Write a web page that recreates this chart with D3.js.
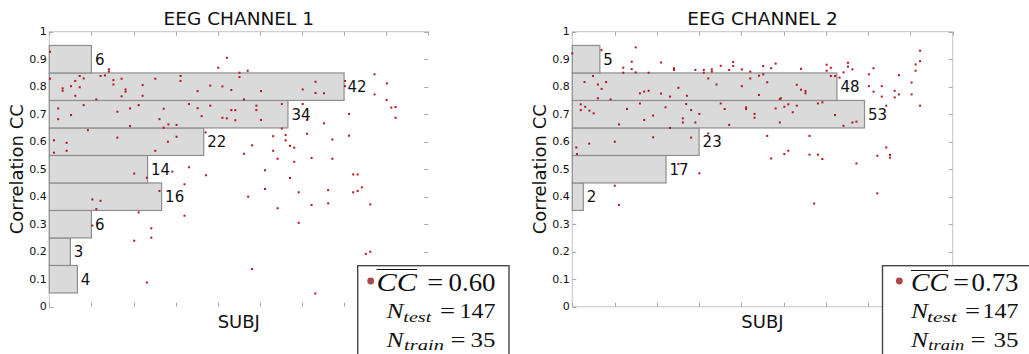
<!DOCTYPE html>
<html><head><meta charset="utf-8">
<script src="https://cdn.jsdelivr.net/npm/d3@7"></script>
<style>body{margin:0;background:#fff}svg{display:block}</style>
</head><body>
<svg id="chart" width="1029" height="354"></svg>
<script>
// ---------------- DATA ----------------
const binCenters = [0.1, 0.2, 0.3, 0.4, 0.5, 0.6, 0.7, 0.8, 0.9];
const counts1 = [4, 3, 6, 16, 14, 22, 34, 42, 6];
const counts2 = [0, 0, 0, 2, 17, 23, 53, 48, 5];
const yTickValues = [0, 0.1, 0.2, 0.3, 0.4, 0.5, 0.6, 0.7, 0.8, 0.9, 1];
const yTickLabels = ["0", "0.1", "0.2", "0.3", "0.4", "0.5", "0.6", "0.7", "0.8", "0.9", "1"];
const titles = ["EEG CHANNEL 1", "EEG CHANNEL 2"];
const xLabel = "SUBJ";
const yLabel = "Correlation CC";
const meanCC = ["0.60", "0.73"];
const nTest = ["147", "147"];
const nTrain = ["35", "35"];
const countMax = [54, 69];
const subjMax = 162;

// channel 1 scatter: subject index, correlation
const subj1 = [0.3,72.2,75.9,25.5,25.4,81.3,81.3,84.8,139,144.3,139,144.2,146.2,148,148,
 0.3,5.7,5.7,9.3,11.1,13,13,14.7,11.1,21.9,23.8,27.4,27.4,30.9,30.9,32.6,32.6,39.9,39.9,45.3,56.1,56.1,63.4,68.8,74,77.8,83.2,90.5,108.3,113.8,113.8,117.4,126.4,126.4,20.1,
 3.8,3.8,9.3,14.7,16.5,29.1,34.5,38.2,34.5,48.9,47.1,48.9,50.9,54.4,59.7,63.4,65.1,68.8,74,75.9,77.8,79.5,79.5,88.5,88.5,90.5,99.4,99.4,108.3,110.2,128.1,117.4,
 2,2,7.4,7.4,29.1,45.3,50.7,54.4,66.8,86.7,83.2,95.7,101,101,102.9,104.7,110.2,121,128.1,95.7,97.6,104.7,112.1,121,
 36.3,41.7,52.6,59.7,67,92.2,102.9,129.9,131.8,57.8,
 47.1,18.4,21.9,20.1,38.2,85,92.2,106.6,119.2,129.9,131.8,133.6,97.6,112.1,119.2,137.2,57.8,
 18.4,43.6,43.6,106.6,36.3,
 135.3,137.2,86.7,41.7,113.7];
const cc1 = [0.927,0.869,0.905,0.863,0.855,0.851,0.835,0.858,0.845,0.812,0.772,0.752,0.724,0.726,0.687,
 0.829,0.794,0.785,0.802,0.821,0.839,0.798,0.830,0.767,0.839,0.841,0.824,0.808,0.829,0.765,0.790,0.782,0.806,0.767,0.829,0.839,0.821,0.784,0.804,0.801,0.788,0.754,0.784,0.790,0.818,0.777,0.776,0.821,0.802,0.754,
 0.721,0.682,0.697,0.733,0.642,0.709,0.721,0.733,0.657,0.72,0.682,0.651,0.663,0.661,0.737,0.722,0.693,0.731,0.687,0.685,0.715,0.715,0.678,0.731,0.715,0.679,0.737,0.648,0.737,0.679,0.701,0.667,
 0.605,0.560,0.596,0.567,0.615,0.567,0.6,0.618,0.634,0.587,0.556,0.62,0.624,0.605,0.585,0.578,0.629,0.608,0.622,0.567,0.538,0.527,0.541,0.538,
 0.484,0.469,0.491,0.507,0.478,0.496,0.468,0.481,0.481,0.445,
 0.421,0.39,0.385,0.355,0.343,0.4,0.428,0.416,0.424,0.416,0.421,0.434,0.358,0.37,0.376,0.372,0.331,
 0.295,0.285,0.251,0.305,0.24,
 0.192,0.2,0.137,0.088,0.048];

// channel 2 scatter
const subj2 = [0,12.4,27,25.3,25.3,21.7,21.7,27,32.5,37.8,43.3,43.3,52.4,56,56,59.4,59.4,63.2,66.8,68.5,68.5,72.2,75.8,81.3,84.7,86.6,97.4,108.3,108.3,110.1,117.4,117.4,115.5,119.3,128.3,126.3,148.1,148.1,146.2,146.2,
 5.2,8.8,10.9,12.5,14.4,10.9,16.3,28.8,30.6,32.5,28.8,37.8,41.6,45.2,48.8,57.9,61.4,72.2,75.8,79.5,81.3,79.5,83,95.6,97.4,99.3,99.3,88.8,110.1,111.9,113.8,126.3,128.3,131.8,131.8,137.3,137.3,139.1,139.1,144.5,144.5,
 3.6,3.6,5.5,7.3,9.1,23.3,34.4,30.6,39.7,48.5,50.6,47.1,47.1,41.6,52.4,54.1,63.2,64.9,66.8,74,74,77.6,77.6,86.6,88.4,88.4,90.3,92,93.9,95.6,104.6,106.5,111.9,115.5,119.3,121,133.7,148.1,
 1.7,2,7.2,18.1,19.9,34.4,50.6,57.9,83,101,84.7,90.3,92,101,104.6,106.5,133.7,129.9,135.3,135.3,121,
 45.2,54.1,18.1,129.9,
 19.9,103];
const cc2 = [0.921,0.933,0.943,0.891,0.864,0.869,0.851,0.852,0.851,0.888,0.867,0.861,0.861,0.861,0.851,0.863,0.855,0.876,0.861,0.89,0.875,0.863,0.855,0.875,0.867,0.884,0.865,0.88,0.858,0.869,0.887,0.873,0.852,0.863,0.867,0.845,0.931,0.893,0.881,0.858,
 0.817,0.839,0.808,0.792,0.817,0.758,0.754,0.776,0.782,0.785,0.739,0.775,0.764,0.796,0.767,0.83,0.808,0.802,0.83,0.84,0.845,0.77,0.816,0.807,0.789,0.784,0.776,0.758,0.839,0.839,0.833,0.802,0.782,0.802,0.764,0.785,0.761,0.842,0.772,0.815,0.772,
 0.736,0.715,0.727,0.713,0.703,0.719,0.695,0.679,0.725,0.737,0.715,0.685,0.67,0.65,0.67,0.701,0.739,0.719,0.661,0.725,0.719,0.701,0.687,0.721,0.755,0.67,0.727,0.736,0.707,0.731,0.739,0.743,0.697,0.658,0.67,0.673,0.731,0.731,
 0.579,0.555,0.593,0.6,0.663,0.616,0.615,0.63,0.621,0.621,0.539,0.555,0.567,0.553,0.553,0.537,0.579,0.549,0.552,0.542,0.521,
 0.519,0.485,0.44,0.412,
 0.37,0.375];

// ---------------- LAYOUT ----------------
const svg = d3.select("#chart");
const panels = [
  {x0: 49.3, x1: 428.3, counts: counts1, subj: subj1, cc: cc1, rightSpine: false, bottomSpine: false,
   legend: {box: [357.7, 265.7, 151.3],
     dot: [370.7, 281], cc: [376.5, 40.5], ovY: 269.5, eq1: 435.3, end: 495.5,
     n: 386.5, sub2: [403.3, 28], eq2: 447.5, sub3: [404, 40], eq3: 458}},
  {x0: 572.3, x1: 952.7, counts: counts2, subj: subj2, cc: cc2, rightSpine: true, bottomSpine: true,
   legend: {box: [882.5, 265.7, 160],
     dot: [899.3, 281], cc: [911, 37], ovY: 270.5, eq1: 961, end: 1018.5,
     n: 911, sub2: [927, 30], eq2: 972.5, sub3: [928.3, 36], eq3: 978}}
];
const yTop = 31.7, yBot = 306.7;
const sans = "DejaVu Sans, sans-serif";
const serif = "Liberation Serif, Times New Roman, serif";
const spineCol = "#c4c4c4", tickCol = "#a8a8a8";

panels.forEach((p, i) => {
  const g = svg.append("g");
  const y = d3.scaleLinear().domain([0, 1]).range([yBot, yTop]);
  const xc = d3.scaleLinear().domain([0, countMax[i]]).range([p.x0, p.x1]);
  const xs = d3.scaleLinear().domain([0, subjMax]).range([p.x0, p.x1]);
  const xTicks = d3.range(10).map(k => k * countMax[i] / 9);

  // spines
  g.append("line").attr("x1", p.x0).attr("x2", p.x1).attr("y1", yTop).attr("y2", yTop).attr("stroke", spineCol);
  g.append("line").attr("x1", p.x0).attr("x2", p.x0).attr("y1", yTop).attr("y2", yBot).attr("stroke", spineCol);
  if (p.bottomSpine) g.append("line").attr("x1", p.x0).attr("x2", p.x1).attr("y1", yBot).attr("y2", yBot).attr("stroke", spineCol);
  if (p.rightSpine) g.append("line").attr("x1", p.x1).attr("x2", p.x1).attr("y1", yTop).attr("y2", yBot).attr("stroke", spineCol);

  // ticks
  const tl = 4;
  xTicks.forEach(t => {
    const X = Math.round(xc(t)) + 0.5;
    g.append("line").attr("x1", X).attr("x2", X).attr("y1", yTop).attr("y2", yTop + tl).attr("stroke", tickCol);
    g.append("line").attr("x1", X).attr("x2", X).attr("y1", yBot).attr("y2", yBot - tl).attr("stroke", tickCol);
  });
  yTickValues.forEach(t => {
    const Y = Math.round(y(t)) + 0.5;
    g.append("line").attr("x1", p.x0).attr("x2", p.x0 + tl).attr("y1", Y).attr("y2", Y).attr("stroke", tickCol);
    g.append("line").attr("x1", p.x1).attr("x2", p.x1 - tl).attr("y1", Y).attr("y2", Y).attr("stroke", tickCol);
  });
  g.selectAll("text.yt").data(yTickValues).enter().append("text")
    .attr("x", p.x0 - 2.5).attr("y", d => y(d)).attr("text-anchor", "end")
    .attr("dominant-baseline", "central").attr("font-family", sans).attr("font-size", 11)
    .attr("fill", "#111").text((d, k) => yTickLabels[k]);

  // histogram bars
  const bins = binCenters.map((c, k) => ({c, n: p.counts[k]})).filter(d => d.n > 0);
  g.selectAll("rect.bar").data(bins).enter().append("rect")
    .attr("x", p.x0).attr("y", d => y(d.c + 0.05))
    .attr("width", d => xc(d.n) - p.x0).attr("height", d => y(d.c - 0.05) - y(d.c + 0.05))
    .attr("fill", "#dadada").attr("stroke", "#8e8e8e").attr("stroke-width", 1.2);

  // scatter
  g.selectAll("rect.pt").data(p.subj.map((s, k) => [s, p.cc[k]])).enter().append("rect")
    .attr("x", d => xs(d[0]) - 1).attr("y", d => y(d[1]) - 1).attr("width", 2).attr("height", 2)
    .attr("fill", "#b3161c");

  // count labels
  g.selectAll("text.cnt").data(bins).enter().append("text")
    .attr("x", d => xc(d.n) + 3.5).attr("y", d => y(d.c) + 0.5)
    .attr("dominant-baseline", "central").attr("font-family", sans).attr("font-size", 15)
    .attr("fill", "#111").text(d => d.n);

  // titles and labels
  const cx = (p.x0 + p.x1) / 2, cy = (yTop + yBot) / 2;
  g.append("text").attr("x", cx).attr("y", 25).attr("text-anchor", "middle")
    .attr("font-family", sans).attr("font-size", 18.5).attr("fill", "#111").text(titles[i]);
  g.append("text").attr("x", cx).attr("y", 328.3).attr("text-anchor", "middle")
    .attr("font-family", sans).attr("font-size", 18).attr("fill", "#111").text(xLabel);
  g.append("text").attr("transform", `translate(${p.x0 - 26},${cy}) rotate(-90)`)
    .attr("text-anchor", "middle").attr("font-family", sans).attr("font-size", 18)
    .attr("fill", "#111").text(yLabel);

  // legend
  const L = p.legend;
  const lg = svg.append("g");
  lg.append("rect").attr("x", L.box[0]).attr("y", L.box[1]).attr("width", L.box[2]).attr("height", 120)
    .attr("fill", "#fff").attr("stroke", "#474747").attr("stroke-width", 1.4);
  lg.append("circle").attr("cx", L.dot[0]).attr("cy", L.dot[1]).attr("r", 3.4).attr("fill", "#b04545");
  const t = (x, yy, s, size, italic, anchor, len) => {
    const e = lg.append("text").attr("x", x).attr("y", yy).attr("font-family", serif)
      .attr("font-size", size).attr("fill", "#111").attr("text-anchor", anchor || "start").text(s);
    if (italic) e.attr("font-style", "italic");
    if (len) e.attr("textLength", len).attr("lengthAdjust", "spacingAndGlyphs");
    return e;
  };
  const b1 = 291, b2 = 318, b3 = 346.5;
  t(L.cc[0], b1, "CC", 26, true, "start", L.cc[1]);
  lg.append("line").attr("x1", L.cc[0]).attr("x2", L.cc[0] + L.cc[1]).attr("y1", L.ovY).attr("y2", L.ovY)
    .attr("stroke", "#111").attr("stroke-width", 1.2);
  t(L.eq1, b1, "=", 26, false, "middle", 16);
  t(L.end, b1, meanCC[i], 26, false, "end", 47);
  t(L.n, b2, "N", 21, true, "start", 17);
  t(L.sub2[0], b2 + 3.5, "test", 15, true, "start", L.sub2[1]);
  t(L.eq2, b2, "=", 21, false, "middle", 15);
  t(L.end, b2, nTest[i], 21, false, "end", 36);
  t(L.n, b3, "N", 21, true, "start", 17);
  t(L.sub3[0], b3 + 3.5, "train", 15, true, "start", L.sub3[1]);
  t(L.eq3, b3, "=", 21, false, "middle", 15);
  t(L.end, b3, nTrain[i], 21, false, "end", 25);
});
</script>
</body></html>
